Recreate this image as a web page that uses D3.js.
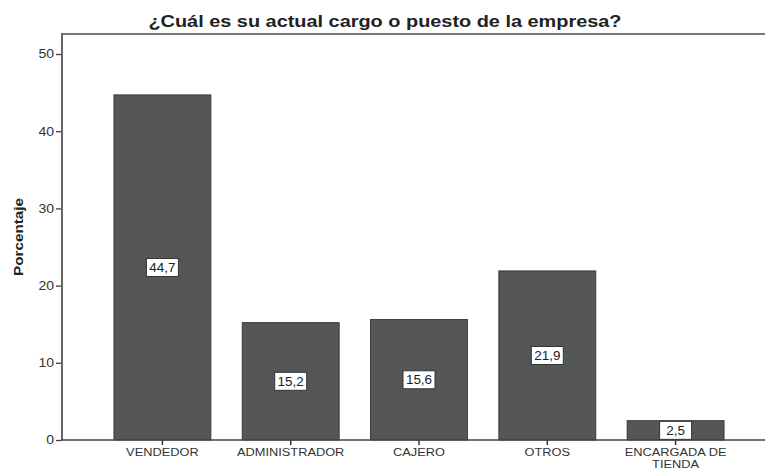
<!DOCTYPE html>
<html>
<head>
<meta charset="utf-8">
<script src="https://cdn.jsdelivr.net/npm/d3@7"></script>
<style>
  body { margin: 0; background: #fff; }
  svg { display: block; font-family: "Liberation Sans", Arial, sans-serif; }
</style>
</head>
<body>
<div id="chart"></div>
<script>
const kWidth = 765;
const kHeight = 472;

const categories = ["VENDEDOR", "ADMINISTRADOR", "CAJERO", "OTROS", "ENCARGADA DE TIENDA"];
const percentages = [44.7, 15.2, 15.6, 21.9, 2.5];
const yTicks = [0, 10, 20, 30, 40, 50];

const plotLeft = 62, plotTop = 34, plotBottom = 440;
const kStretch = 1.17; // text in the original is a bit wider than Arial

// widen text horizontally to match the original's rendering
function stretch(sel, factor)
{
  sel.each(function() {
    const w = this.getComputedTextLength();
    d3.select(this)
      .attr("textLength", w * factor)
      .attr("lengthAdjust", "spacingAndGlyphs");
  });
}

const svg = d3.select("#chart")
  .append("svg")
  .attr("width", kWidth)
  .attr("height", kHeight);

const xScale = d3.scaleBand()
  .domain(categories)
  .range([plotLeft, 776])
  .paddingInner(0.245)
  .paddingOuter(0.405);

const yScale = d3.scaleLinear()
  .domain([0, 50])
  .range([plotBottom, 54]);

// title
svg.append("text")
  .attr("x", 385)
  .attr("y", 27)
  .attr("text-anchor", "middle")
  .style("font-size", "17px")
  .style("font-weight", "bold")
  .style("fill", "#222")
  .text("¿Cuál es su actual cargo o puesto de la empresa?")
  .call(stretch, kStretch);

// frame top line
svg.append("line")
  .attr("x1", plotLeft).attr("x2", kWidth)
  .attr("y1", plotTop).attr("y2", plotTop)
  .style("stroke", "#777").style("stroke-width", 2);

// bars
svg.selectAll("rect.bar")
  .data(percentages)
  .enter()
  .append("rect")
  .attr("class", "bar")
  .attr("x", (d, i) => xScale(categories[i]))
  .attr("y", d => yScale(d))
  .attr("width", xScale.bandwidth())
  .attr("height", d => yScale(0) - yScale(d))
  .style("fill", "#555658")
  .style("stroke", "#3a3a3a")
  .style("stroke-width", 1);

// y axis
const yAxis = d3.axisLeft(yScale)
  .tickValues(yTicks)
  .tickSize(6)
  .tickPadding(2)
  .tickFormat(d3.format("d"));

const gy = svg.append("g")
  .attr("transform", `translate(${plotLeft}, 0)`)
  .call(yAxis);
gy.select(".domain").remove();
gy.selectAll(".tick line").style("stroke", "#444").style("stroke-width", 1.3);
gy.selectAll(".tick text")
  .style("font-size", "12px").style("fill", "#333")
  .style("font-family", "'Liberation Sans', Arial, sans-serif")
  .call(stretch, kStretch);

svg.append("line")
  .attr("x1", plotLeft).attr("x2", plotLeft)
  .attr("y1", plotTop - 1).attr("y2", plotBottom)
  .style("stroke", "#666").style("stroke-width", 2);

// x axis
const xAxis = d3.axisBottom(xScale)
  .tickSize(5)
  .tickSizeOuter(0)
  .tickFormat("");

const gx = svg.append("g")
  .attr("transform", `translate(0, ${plotBottom})`)
  .call(xAxis);
gx.select(".domain").remove();
gx.selectAll(".tick line").style("stroke", "#333").style("stroke-width", 1.5);

svg.append("line")
  .attr("x1", plotLeft - 1).attr("x2", kWidth)
  .attr("y1", plotBottom).attr("y2", plotBottom)
  .style("stroke", "#444").style("stroke-width", 1.5);

const xLabels = svg.selectAll("text.xlabel")
  .data(categories)
  .enter()
  .append("text")
  .attr("class", "xlabel")
  .attr("text-anchor", "middle")
  .attr("y", 456)
  .style("font-size", "10px")
  .style("fill", "#333");

xLabels.each(function(d) {
  const el = d3.select(this);
  const cx = xScale(d) + xScale.bandwidth() / 2;
  const lines = d === "ENCARGADA DE TIENDA" ? ["ENCARGADA DE", "TIENDA"] : [d];
  lines.forEach((t, j) => {
    el.append("tspan")
      .attr("x", cx)
      .attr("dy", j === 0 ? 0 : 11.5)
      .text(t);
  });
});
xLabels.selectAll("tspan").call(stretch, 1.28);

// y title
svg.append("text")
  .attr("transform", `translate(23, ${(plotTop + plotBottom) / 2}) rotate(-90)`)
  .attr("text-anchor", "middle")
  .style("font-size", "13px")
  .style("font-weight", "bold")
  .style("fill", "#222")
  .text("Porcentaje")
  .call(stretch, kStretch);

// value labels
const fmt = v => d3.format(".1f")(v).replace(".", ",");

const labels = svg.selectAll("g.vlabel")
  .data(percentages)
  .enter()
  .append("g")
  .attr("class", "vlabel")
  .attr("transform", (d, i) =>
    `translate(${xScale(categories[i]) + xScale.bandwidth() / 2}, ${(yScale(d) + yScale(0)) / 2})`);

labels.append("rect")
  .attr("x", -16)
  .attr("y", -9)
  .attr("width", 32)
  .attr("height", 18)
  .style("fill", "#fff")
  .style("stroke", "#333")
  .style("stroke-width", 1);

labels.append("text")
  .attr("text-anchor", "middle")
  .attr("y", 4.5)
  .style("font-size", "12px")
  .style("fill", "#222")
  .text(d => fmt(d))
  .call(stretch, 1.12);
</script>
</body>
</html>
